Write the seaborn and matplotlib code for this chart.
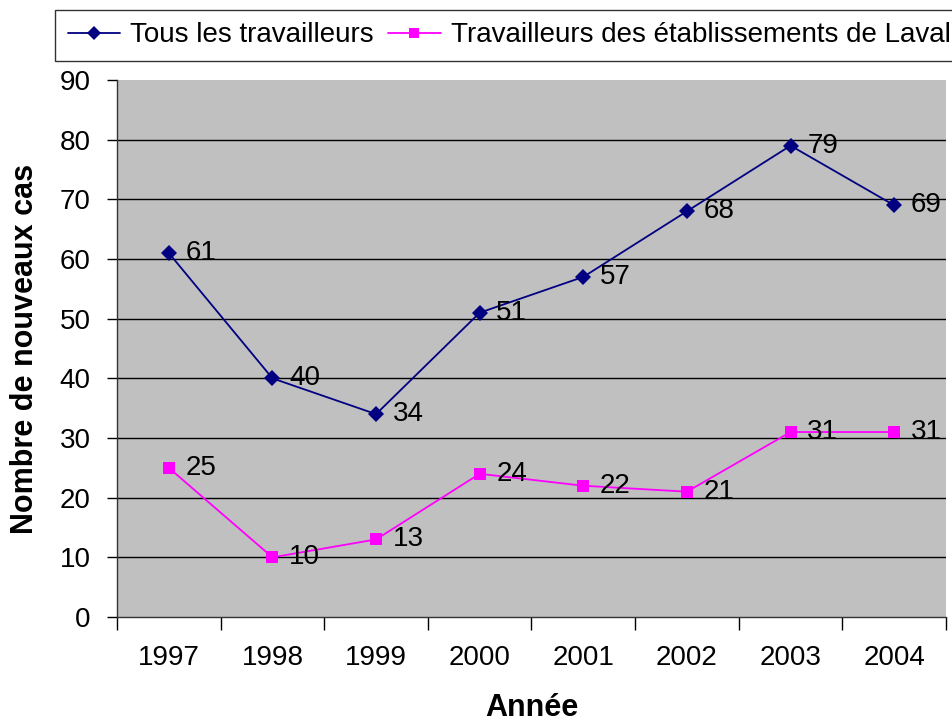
import matplotlib
matplotlib.use("Agg")
import matplotlib.pyplot as plt
import seaborn as sns
import pandas as pd
from matplotlib.lines import Line2D

years = ["1997", "1998", "1999", "2000", "2001", "2002", "2003", "2004"]
tous = [61, 40, 34, 51, 57, 68, 79, 69]
laval = [25, 10, 13, 24, 22, 21, 31, 31]
series_names = ["Tous les travailleurs", "Travailleurs des établissements de Laval"]

sns.set_theme(style="white")
plt.rcParams["font.family"] = ["Liberation Sans", "DejaVu Sans"]
plt.rcParams.update({"text.color": "black", "axes.labelcolor": "black",
                     "xtick.color": "black", "ytick.color": "black"})

df = pd.DataFrame({
    "idx": list(range(len(years))) * 2,
    "val": tous + laval,
    "serie": [series_names[0]] * len(years) + [series_names[1]] * len(years),
})

fig = plt.figure(figsize=(9.53, 7.23), dpi=100)
ax = fig.add_axes([117/953, 1 - 617/723, (946-117)/953, (617-80)/723])
ax.set_facecolor("#C0C0C0")

colors = {series_names[0]: "#000080", series_names[1]: "#FF00FF"}
markers = {series_names[0]: "D", series_names[1]: "s"}
sns.lineplot(data=df, x="idx", y="val", hue="serie", style="serie",
             palette=colors, markers=markers, dashes=False, ax=ax,
             linewidth=1.3, markersize=8, markeredgewidth=0, legend=False)

for vals in (tous, laval):
    for i, v in enumerate(vals):
        ax.annotate(str(v), (i, v), xytext=(12, 0), textcoords="offset points",
                    va="center", ha="left", fontsize=20, color="black")

ax.set_xlim(-0.5, len(years) - 0.5)
ax.set_ylim(0, 90)
ax.set_yticks(range(0, 91, 10))
ax.set_yticklabels([str(v) for v in range(0, 91, 10)], fontsize=20)
ax.set_xticks([i - 0.5 for i in range(len(years) + 1)])
ax.set_xticklabels([])
ax.set_xticks(range(len(years)), minor=True)
ax.set_xticklabels(years, minor=True, fontsize=20)
ax.tick_params(axis="x", which="major", direction="out", length=9, width=1, color="black", bottom=True)
ax.tick_params(axis="x", which="minor", length=0, pad=20)
ax.tick_params(axis="y", direction="out", length=7, width=1, color="black", left=True, pad=12)

for y in range(10, 90, 10):
    ax.axhline(y, color="black", linewidth=1, zorder=0.5)

for s in ["top", "right"]:
    ax.spines[s].set_visible(False)
for s in ["left", "bottom"]:
    ax.spines[s].set_color("#333333")
    ax.spines[s].set_linewidth(1)

ax.set_xlabel("Année", fontsize=22, fontweight="bold", labelpad=16)
ax.set_ylabel("Nombre de nouveaux cas", fontsize=22, fontweight="bold", labelpad=14)

handles = [Line2D([], [], color=colors[n], marker=markers[n], markersize=7, linewidth=1.3,
                  markeredgewidth=0) for n in series_names]
leg = fig.legend(handles, series_names, loc="upper left", bbox_to_anchor=(55/953, 1 - 10/723),
                 ncol=2, fontsize=20, frameon=True, fancybox=False, edgecolor="black",
                 handlelength=1.9, handletextpad=0.36, columnspacing=0.5, borderpad=0.45,
                 borderaxespad=0)
leg.get_frame().set_linewidth(1)

fig.savefig("out.png", dpi=100)
